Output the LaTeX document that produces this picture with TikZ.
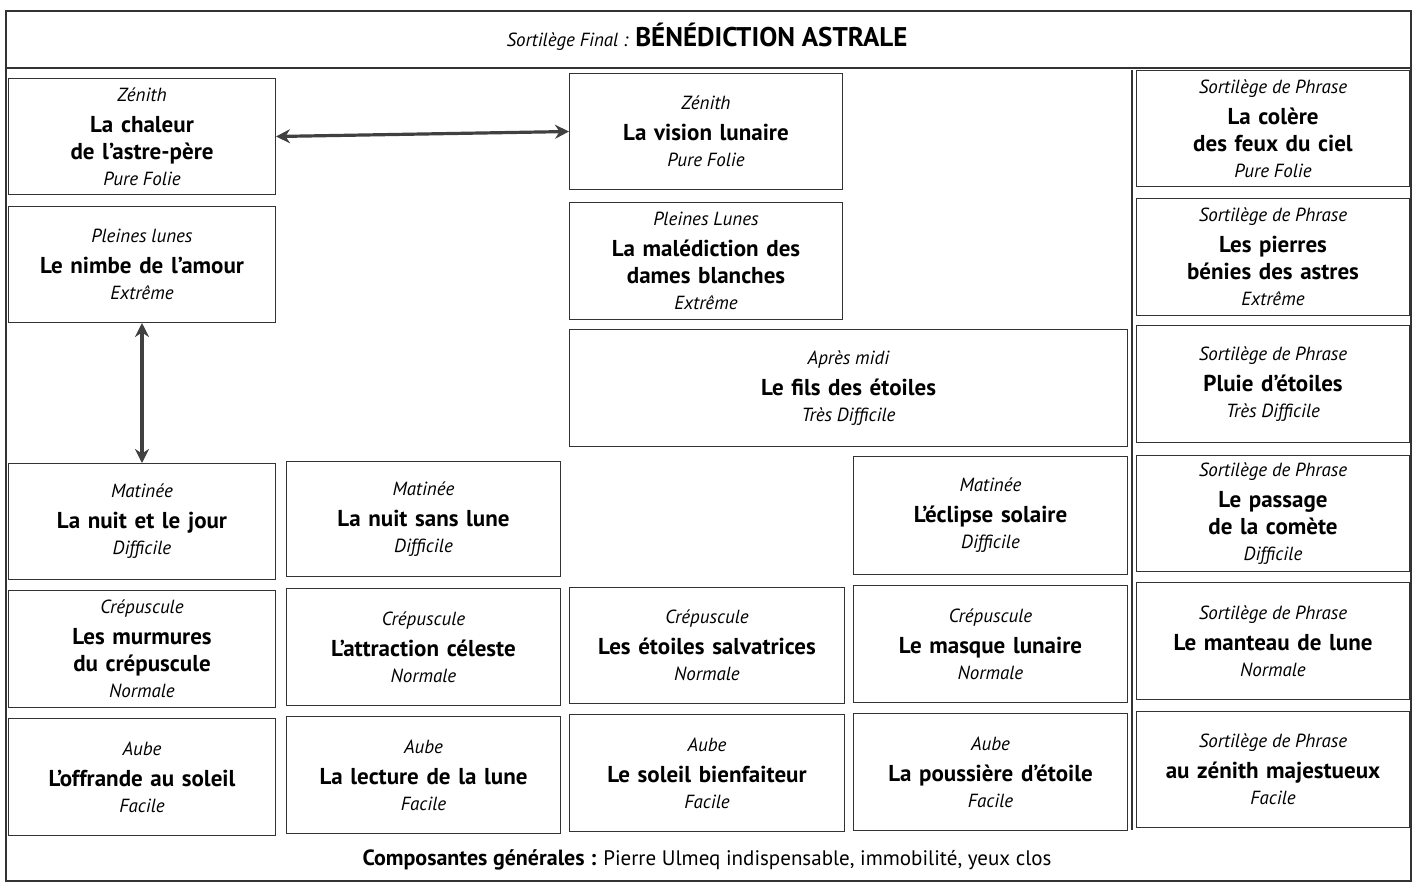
\documentclass[tikz,border=0pt]{standalone}
\usepackage{fontspec}
\setmainfont{PT Sans}
\usetikzlibrary{arrows.meta}
\tikzset{
  cellbox/.style={draw=black!80, line width=0.7pt, anchor=north west, align=center, inner sep=1pt, font=\fontsize{11.5}{13.5}\selectfont},
  dbl/.style={draw=black!75, line width=1.6pt, {Stealth[length=7pt,width=7pt]}-{Stealth[length=7pt,width=7pt]}}
}
\newcommand\smallit{\fontsize{9.5}{11}\selectfont\itshape\spaceskip=0.25em\relax}
\newcommand\cellnode[8]{%
  \node[cellbox, minimum width=#4*0.5pt-0.7pt, minimum height=#5*0.5pt-0.7pt, text width=#4*0.5pt-8pt] (#1) at (#2,#3)
  {{\smallit #6\par}\vspace{2pt}{\bfseries #7\par}\vspace{2pt}{\smallit #8\par}};}
\begin{document}
\begin{tikzpicture}[x=0.5pt,y=-0.5pt]
\useasboundingbox (0,0) rectangle (1415,890);
\fill[white] (0,0) rectangle (1415,890);
\node[draw=black!80, line width=0.8pt, anchor=north west, minimum width=1405*0.5pt, minimum height=870*0.5pt, inner sep=0] (frame) at (5,10) {};
\draw[black!80, line width=0.8pt] (5,68) -- (1410,68);
\draw[black!80, line width=1pt] (1132,70) -- (1132,830);
\node (title) at (707,37) {{\smallit Sortilège Final :} {\fontsize{13.5}{15}\selectfont\bfseries BÉNÉDICTION ASTRALE}};
% column 1
\cellnode{a1}{8}{78}{268}{117}{Zénith}{La chaleur\\de l’astre-père}{Pure Folie}
\cellnode{a2}{8}{206}{268}{117}{Pleines lunes}{Le nimbe de l’amour}{Extrême}
\cellnode{a3}{8}{463}{268}{117}{Matinée}{La nuit et le jour}{Difficile}
\cellnode{a4}{8}{590}{268}{118}{Crépuscule}{Les murmures\\du crépuscule}{Normale}
\cellnode{a5}{8}{718}{268}{118}{Aube}{L’offrande au soleil}{Facile}
% column 2
\cellnode{b3}{286}{461}{275}{116}{Matinée}{La nuit sans lune}{Difficile}
\cellnode{b4}{286}{588}{275}{118}{Crépuscule}{L’attraction céleste}{Normale}
\cellnode{b5}{286}{716}{275}{118}{Aube}{La lecture de la lune}{Facile}
% column 3
\cellnode{c1}{569}{73}{274}{117}{Zénith}{La vision lunaire}{Pure Folie}
\cellnode{c2}{569}{202}{274}{118}{Pleines Lunes}{La malédiction des\\dames blanches}{Extrême}
\cellnode{cd}{569}{329}{559}{118}{Après midi}{Le fils des étoiles}{Très Difficile}
\cellnode{c4}{569}{587}{276}{117}{Crépuscule}{Les étoiles salvatrices}{Normale}
\cellnode{c5}{569}{714}{276}{118}{Aube}{Le soleil bienfaiteur}{Facile}
% column 4
\cellnode{d3}{853}{456}{275}{119}{Matinée}{L’éclipse solaire}{Difficile}
\cellnode{d4}{853}{585}{275}{118}{Crépuscule}{Le masque lunaire}{Normale}
\cellnode{d5}{853}{713}{275}{118}{Aube}{La poussière d’étoile}{Facile}
% column 5
\cellnode{e1}{1136}{70}{274}{117}{Sortilège de Phrase}{La colère\\des feux du ciel}{Pure Folie}
\cellnode{e2}{1136}{198}{274}{118}{Sortilège de Phrase}{Les pierres\\bénies des astres}{Extrême}
\cellnode{e3}{1136}{325}{274}{118}{Sortilège de Phrase}{Pluie d’étoiles}{Très Difficile}
\cellnode{e4}{1136}{455}{274}{117}{Sortilège de Phrase}{Le passage\\de la comète}{Difficile}
\cellnode{e5}{1136}{582}{274}{118}{Sortilège de Phrase}{Le manteau de lune}{Normale}
\cellnode{e6}{1136}{711}{274}{117}{Sortilège de Phrase}{au zénith majestueux}{Facile}
% arrows
\draw[dbl] (a1.east) -- (c1.west);
\draw[dbl] (a2.south) -- (a3.north);
\node (foot) at (707,860) {{\fontsize{11}{13}\selectfont\bfseries Composantes générales :} {\fontsize{10.5}{13}\selectfont Pierre Ulmeq indispensable, immobilité, yeux clos}};
\end{tikzpicture}
\end{document}
